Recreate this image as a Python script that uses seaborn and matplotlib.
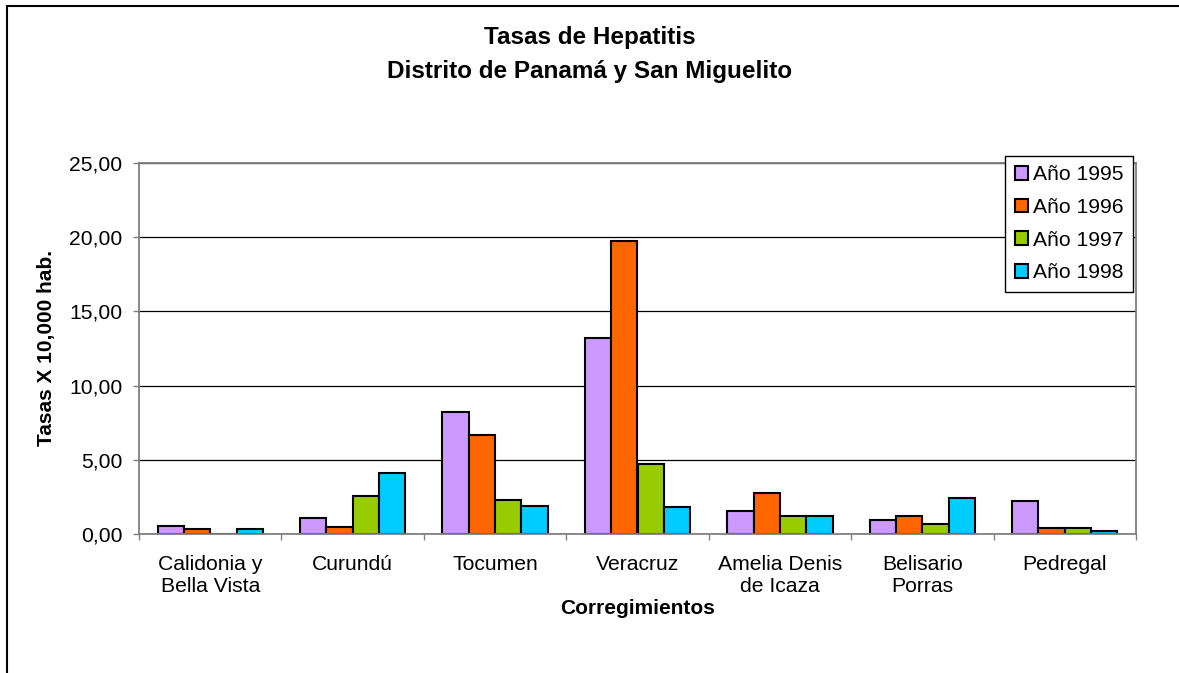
import numpy as np
import pandas as pd
import matplotlib
matplotlib.use("Agg")
import matplotlib.pyplot as plt
from matplotlib.patches import Rectangle
from matplotlib.ticker import FixedLocator, FuncFormatter
import seaborn as sns

# Datos (tasas por 10,000 hab.)
corregimientos = ["Calidonia y\nBella Vista", "Curundú", "Tocumen", "Veracruz",
                  "Amelia Denis\nde Icaza", "Belisario\nPorras", "Pedregal"]
anios = ["Año 1995", "Año 1996", "Año 1997", "Año 1998"]
tasa_1995 = [0.55, 1.07, 8.22, 13.18, 1.53, 0.97, 2.20]
tasa_1996 = [0.35, 0.50, 6.64, 19.75, 2.77, 1.20, 0.40]
tasa_1997 = [0.00, 2.55, 2.30, 4.73, 1.20, 0.65, 0.42]
tasa_1998 = [0.35, 4.10, 1.91, 1.80, 1.20, 2.43, 0.20]
colores = ["#CC99FF", "#FF6600", "#99CC00", "#00CCFF"]

df = pd.DataFrame({
    "Corregimiento": corregimientos,
    anios[0]: tasa_1995,
    anios[1]: tasa_1996,
    anios[2]: tasa_1997,
    anios[3]: tasa_1998,
}).melt(id_vars="Corregimiento", var_name="Año", value_name="Tasa")

sns.set_style("white")
plt.rcParams["font.family"] = ["Liberation Sans", "DejaVu Sans"]
plt.rcParams["text.color"] = "black"
plt.rcParams["axes.labelcolor"] = "black"

W, H = 1179, 673
fig = plt.figure(figsize=(W / 100, H / 100), dpi=100)
ax = fig.add_axes([139 / W, 1 - 534 / H, (1136 - 139) / W, (534 - 163) / H])

sns.barplot(data=df, x="Corregimiento", y="Tasa", hue="Año", palette=colores,
            width=0.74, edgecolor="black", linewidth=1.5, errorbar=None,
            saturation=1, ax=ax)

ax.set_ylim(0, 25)
ax.set_xlim(-0.5, len(corregimientos) - 0.5)
ax.yaxis.set_major_locator(FixedLocator([0, 5, 10, 15, 20, 25]))
ax.yaxis.set_major_formatter(FuncFormatter(lambda v, p: f"{v:.2f}".replace(".", ",")))
ax.grid(axis="y", color="black", linewidth=0.9)
ax.set_axisbelow(True)

for s in ax.spines.values():
    s.set_visible(True)
    s.set_color("#808080")
    s.set_linewidth(1.3)

ax.tick_params(axis="y", which="major", direction="out", length=4, width=1,
               color="#808080", labelcolor="black", pad=8, labelsize=15.2, left=True)
ax.tick_params(axis="x", which="major", length=0, pad=15, labelsize=15.2,
               labelcolor="black")
ax.xaxis.set_minor_locator(FixedLocator(np.arange(-0.5, len(corregimientos), 1.0)))
ax.tick_params(axis="x", which="minor", direction="out", length=4, width=1,
               color="#808080", bottom=True)

ax.set_xlabel("Corregimientos", fontsize=15, fontweight="bold")
ax.xaxis.label.set_va("center")
ax.xaxis.set_label_coords(0.5, (534 - 608) / (534 - 163))
ax.set_ylabel("Tasas X 10,000 hab.", fontsize=15, fontweight="bold")
ax.yaxis.label.set_va("center")
ax.yaxis.set_label_coords((47 - 139) / (1136 - 139), 0.5)

handles, labels = ax.get_legend_handles_labels()
leg = ax.legend(handles, labels, loc="upper right",
                bbox_to_anchor=(1133 / W, 1 - 155.7 / H), bbox_transform=fig.transFigure,
                fontsize=15.2, frameon=True, fancybox=False, shadow=False,
                edgecolor="black", framealpha=1, borderpad=0.45, labelspacing=0.65,
                handlelength=0.62, handleheight=0.62, handletextpad=0.25,
                borderaxespad=0)
leg.get_frame().set_linewidth(1.0)

fig.text(0.5, 1 - 54.5 / H, "Tasas de Hepatitis\nDistrito de Panamá y San Miguelito",
         ha="center", va="center", fontsize=17.5, fontweight="bold",
         linespacing=1.59)

fig.patches.append(Rectangle((7 / W, -0.1), 1.2, 1 - 6 / H + 0.1,
                             transform=fig.transFigure, fill=False,
                             edgecolor="black", linewidth=1.5, clip_on=False))

fig.savefig("out.png", dpi=100)
